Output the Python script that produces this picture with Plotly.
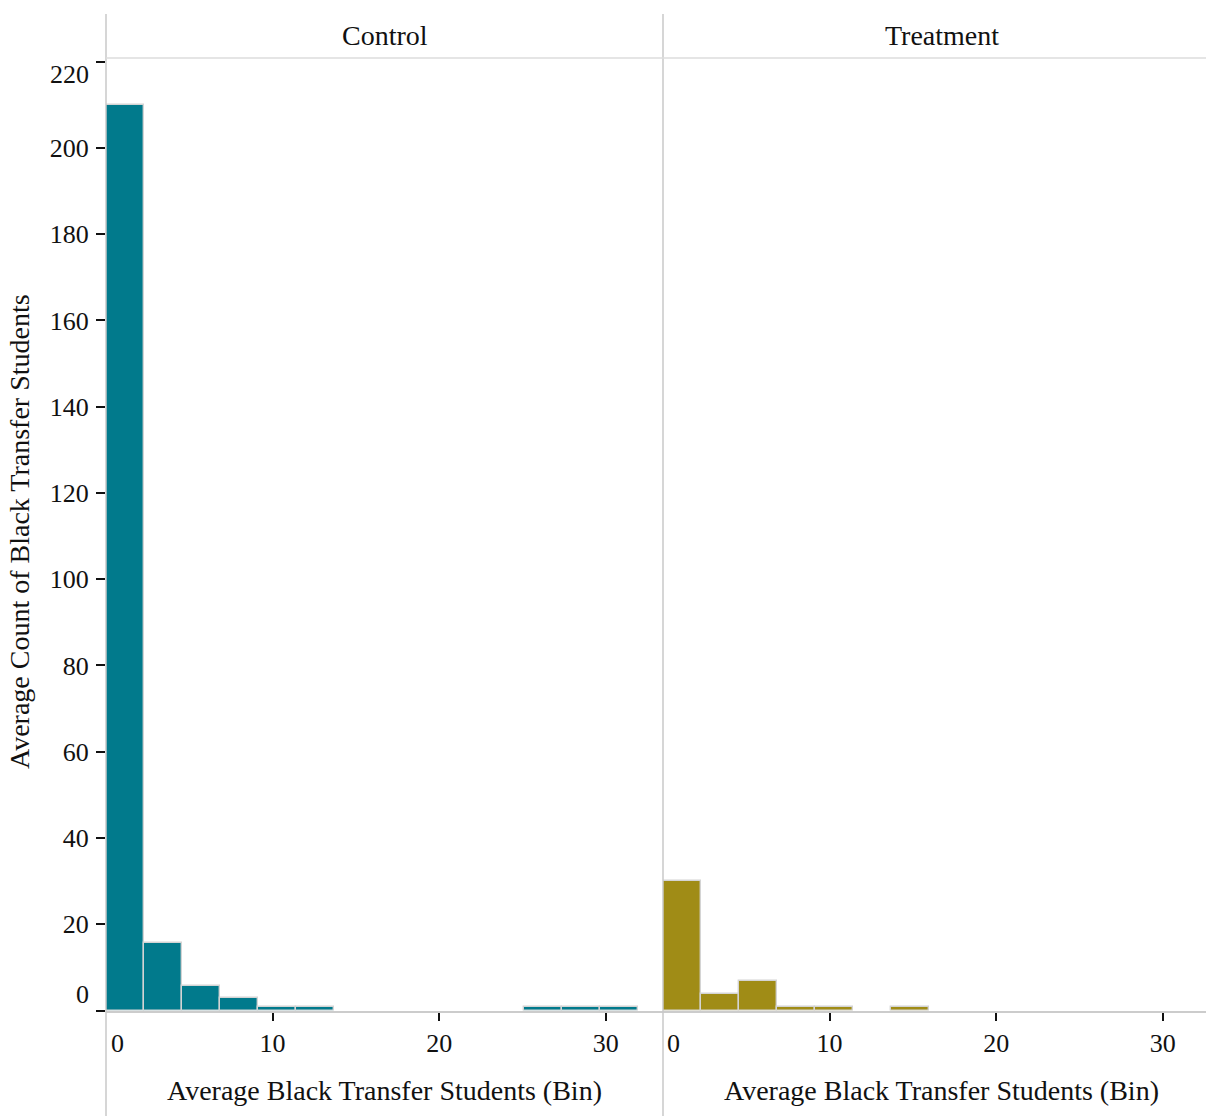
import plotly.graph_objects as go

# ---- data -------------------------------------------------------------
bin_width = 2.28
control_bins = [0, 1, 2, 3, 4, 5, 11, 12, 13]
control_counts = [210, 15.6, 5.7, 2.8, 0.75, 0.75, 0.75, 0.75, 0.75]
treatment_bins = [0, 1, 2, 3, 4, 6]
treatment_counts = [30, 3.8, 6.8, 0.9, 0.9, 0.9]

x_ticks = [10, 20, 30]
y_ticks = [0, 20, 40, 60, 80, 100, 120, 140, 160, 180, 200, 220]
panel_titles = ["Control", "Treatment"]
x_title = "Average Black Transfer Students (Bin)"
y_title = "Average Count of Black Transfer Students"

control_color = "#017a8c"
treatment_color = "#a08c16"

# ---- layout geometry (pixels) ----------------------------------------
W, H = 1206, 1116
LEFT, MID, RIGHT = 106, 663, 1206
TOP, BOTTOM, HEADER_TOP = 58, 1010.5, 14
X_MAX = 33.44
Y_MAX = 220.85

FONT = "Liberation Serif, Times New Roman, serif"
TXT = "#111111"
GRID = "#c8c8c8"
TICK_SIZE = 26
TITLE_SIZE = 28


def fx(p):
    return p / W


def fy(p):
    return 1 - p / H


def centers(bins):
    return [(b + 0.5) * bin_width for b in bins]


fig = go.Figure()
fig.add_trace(go.Bar(
    x=centers(control_bins), y=control_counts, width=bin_width,
    marker=dict(color=control_color, line=dict(color="#d4d4d4", width=1.4)),
    xaxis="x", yaxis="y", showlegend=False,
))
fig.add_trace(go.Bar(
    x=centers(treatment_bins), y=treatment_counts, width=bin_width,
    marker=dict(color=treatment_color, line=dict(color="#d4d4d4", width=1.4)),
    xaxis="x2", yaxis="y2", showlegend=False,
))

xaxis_common = dict(
    tickvals=x_ticks, ticks="outside", ticklen=8, tickwidth=2, tickcolor="#111",
    showline=True, linecolor="#cccccc", linewidth=2, showgrid=False, zeroline=False,
    tickfont=dict(family=FONT, size=TICK_SIZE, color=TXT), ticklabelstandoff=0,
)

y_dom = [fy(BOTTOM), fy(TOP)]
fig.update_layout(
    width=W, height=H,
    margin=dict(l=0, r=0, t=0, b=0),
    paper_bgcolor="white", plot_bgcolor="white",
    bargap=0,
    xaxis=dict(xaxis_common, domain=[fx(LEFT), fx(MID)], range=[0, X_MAX], anchor="y"),
    xaxis2=dict(xaxis_common, domain=[fx(MID), fx(RIGHT)],
                range=[0, X_MAX * (RIGHT - MID) / (MID - LEFT)], anchor="y2"),
    yaxis=dict(
        domain=y_dom, range=[0, Y_MAX], anchor="x",
        tickvals=y_ticks,
        ticktext=["" if v in (0, 220) else str(v) for v in y_ticks],
        ticks="outside", ticklen=9, tickwidth=2, tickcolor="#111",
        showline=False, showgrid=False, zeroline=False,
        tickfont=dict(family=FONT, size=TICK_SIZE, color=TXT), ticklabelstandoff=2,
    ),
    yaxis2=dict(
        domain=y_dom, range=[0, Y_MAX], anchor="x2",
        showticklabels=False, ticks="", showline=False, showgrid=False, zeroline=False,
    ),
)

# panel frame lines
line_style = dict(color=GRID, width=1.5)
shapes = [
    dict(type="line", xref="paper", yref="paper", x0=fx(LEFT), x1=fx(LEFT),
         y0=fy(HEADER_TOP), y1=0, line=line_style),
    dict(type="line", xref="paper", yref="paper", x0=fx(MID), x1=fx(MID),
         y0=fy(HEADER_TOP), y1=0, line=line_style),
    dict(type="line", xref="paper", yref="paper", x0=fx(LEFT), x1=1,
         y0=fy(TOP), y1=fy(TOP), line=dict(color="#dddddd", width=1.5)),
]
fig.update_layout(shapes=shapes)

ann = []
tfont = dict(family=FONT, size=TITLE_SIZE, color=TXT)
kfont = dict(family=FONT, size=TICK_SIZE, color=TXT)
centers_px = [(LEFT + MID) / 2, MID + (MID - LEFT) / 2]
for title, cx in zip(panel_titles, centers_px):
    # facet header
    ann.append(dict(text=title, x=fx(cx), y=fy(36), xref="paper", yref="paper",
                    showarrow=False, font=tfont, xanchor="center", yanchor="middle"))
    # x axis title
    ann.append(dict(text=x_title, x=fx(cx), y=fy(1090), xref="paper", yref="paper",
                    showarrow=False, font=tfont, xanchor="center", yanchor="middle"))
# y axis title
ann.append(dict(text=y_title, x=fx(20), y=fy(532), xref="paper", yref="paper",
                showarrow=False, font=tfont, textangle=-90,
                xanchor="center", yanchor="middle"))
# edge tick labels nudged inside the plot area
ann.append(dict(text="0", x=0, y=fy(1043), xref="x", yref="paper", showarrow=False,
                font=kfont, xshift=11, xanchor="center", yanchor="middle"))
ann.append(dict(text="0", x=0, y=fy(1043), xref="x2", yref="paper", showarrow=False,
                font=kfont, xshift=10, xanchor="center", yanchor="middle"))
ann.append(dict(text="220", x=fx(91), y=fy(74), xref="paper", yref="paper",
                showarrow=False, font=kfont, xanchor="right", yanchor="middle"))
ann.append(dict(text="0", x=fx(91), y=fy(995), xref="paper", yref="paper",
                showarrow=False, font=kfont, xanchor="right", yanchor="middle"))
fig.update_layout(annotations=ann)

fig.write_html("out.html")
